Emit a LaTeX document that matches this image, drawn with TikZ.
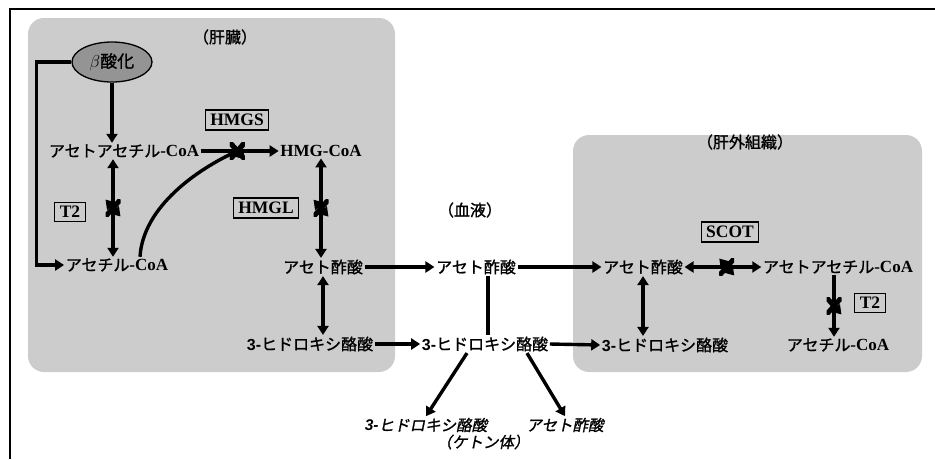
\documentclass[tikz,border=0pt]{standalone}
\usepackage{fontspec}
\setmainfont{Liberation Serif}
\newfontfamily\jp{Noto Sans CJK JP}[FakeBold=1.2]
\newfontfamily\jpit{Noto Sans CJK JP}[FakeSlant=0.2,FakeBold=1.2]
\newfontfamily\lsans{Liberation Sans}
\usetikzlibrary{arrows.meta,shapes.geometric,calc}
\newcommand{\J}[1]{{\jp #1}}
\newcommand{\JI}[1]{{\jpit #1}}
\newcommand{\lb}[1]{{\fontsize{17}{18}\selectfont\textbf{#1}}}
\begin{document}
\begin{tikzpicture}[x=1pt,y=-1pt,
  txt/.style={inner sep=1.5pt,font=\fontsize{16}{18}\selectfont},
  itxt/.style={inner sep=1.5pt,font=\fontsize{15.5}{18}\selectfont},
  enz/.style={draw,line width=1.3pt,inner xsep=5pt,inner ysep=4pt,font=\fontsize{17.5}{18}\bfseries\selectfont},
  region/.style={fill=black!20,rounded corners=16pt},
  arr/.style={line width=3.4pt,-{Triangle[length=9pt,width=11pt]}},
  dbl/.style={line width=3.4pt,{Triangle[length=9pt,width=11pt]}-{Triangle[length=9pt,width=11pt]}},
  plain/.style={line width=3.4pt},
  xmark/.style={minimum width=15pt,minimum height=17pt,inner sep=0pt,
    path picture={\draw[line width=5pt]
      (path picture bounding box.south west)--(path picture bounding box.north east)
      (path picture bounding box.north west)--(path picture bounding box.south east);}},
]
\useasboundingbox (0,0) rectangle (935,459);
% outer frame
\draw[line width=1.4pt] (10,459) -- (10,9) -- (935,9);
% regions
\fill[region] (28,18) rectangle (395,372);
\fill[region] (573,135) rectangle (922,372);
% titles
\node[txt] (tLiver) at (225,37) {\J{（肝臓）}};
\node[txt] (tBlood) at (470,210) {\J{（血液）}};
\node[txt] (tExtra) at (745,142) {\J{（肝外組織）}};
% liver
\node[draw,ellipse,fill=black!42,line width=1.3pt,minimum width=80pt,minimum height=40pt,inner sep=0pt,font=\fontsize{17}{18}\selectfont] (beta) at (112,62) {$\beta$\J{酸化}};
\node[txt] (aacL) at (124,151) {\J{アセトアセチル}\lb{-CoA}};
\node[txt] (hmgcoa) at (321,151) {\lb{HMG-CoA}};
\node[enz] (hmgs) at (237,120) {HMGS};
\node[enz] (t2L) at (70,212) {T2};
\node[enz] (hmgl) at (266,208) {HMGL};
\node[txt] (acL) at (117,265) {\J{アセチル}\lb{-CoA}};
\node[txt] (aaL) at (323,267) {\J{アセト酢酸}};
\node[txt] (hbL) at (310,344) {{\lsans\bfseries 3-}\J{ヒドロキシ酪酸}};
% blood
\node[txt] (aaB) at (476,267) {\J{アセト酢酸}};
\node[txt] (hbB) at (485,344) {{\lsans\bfseries 3-}\J{ヒドロキシ酪酸}};
\node[itxt] (kb1) at (426,425) {{\lsans\bfseries\itshape 3-}\JI{ヒドロキシ酪酸}};
\node[itxt] (kb2) at (565,425) {\JI{アセト酢酸}};
\node[itxt] (ket) at (483,442) {\JI{（ケトン体）}};
% extrahepatic
\node[txt] (aaE) at (643,267) {\J{アセト酢酸}};
\node[txt] (aacE) at (838,267) {\J{アセトアセチル}\lb{-CoA}};
\node[enz] (scot) at (730,232) {SCOT};
\node[enz] (t2E) at (870,303) {T2};
\node[txt] (hbE) at (665,345) {{\lsans\bfseries 3-}\J{ヒドロキシ酪酸}};
\node[txt] (acE) at (838,345) {\J{アセチル}\lb{-CoA}};
% connectors liver
\draw[arr] (beta.south) -- (beta.south |- aacL.north);
\draw[arr] (aacL.east) -- (hmgcoa.west) node[xmark,pos=0.47] (xh) {};
\draw[dbl] ([xshift=-11pt]aacL.south) -- ([xshift=-11pt]aacL.south |- acL.north) node[xmark,midway] {};
\draw[plain] ([xshift=23pt]acL.north) .. controls +(3,-50) and +(-40,18) .. (xh.center);
\node[xmark] at (xh) {};
\draw[arr] (beta.west) -- ++(-35,0) |- (acL.west);
\draw[dbl] (hmgcoa.south) -- (hmgcoa.south |- aaL.north) node[xmark,midway] {};
\draw[dbl] (aaL.south) -- (aaL.south |- hbL.north);
% blood connectors
\draw[arr] (aaL.east) -- (aaB.west);
\draw[arr] (aaB.east) -- (aaE.west);
\draw[arr] (hbL.east) -- (hbB.west);
\draw[arr] (hbB.east) -- (hbE.west);
\draw[plain] ([xshift=12pt]aaB.south) -- ([xshift=12pt]aaB.south |- hbB.north);
\draw[arr] ([xshift=-18pt]hbB.south) -- (kb1.north);
\draw[arr] ([xshift=42pt]hbB.south) -- (kb2.north);
% extrahepatic connectors
\draw[dbl] (aaE.east) -- (aacE.west) node[xmark,pos=0.55] {};
\draw[dbl] (aaE.south) -- (aaE.south |- hbE.north);
\draw[arr] ([xshift=-4pt]aacE.south) -- ([xshift=-4pt]aacE.south |- acE.north) node[xmark,midway] {};
\end{tikzpicture}
\end{document}
